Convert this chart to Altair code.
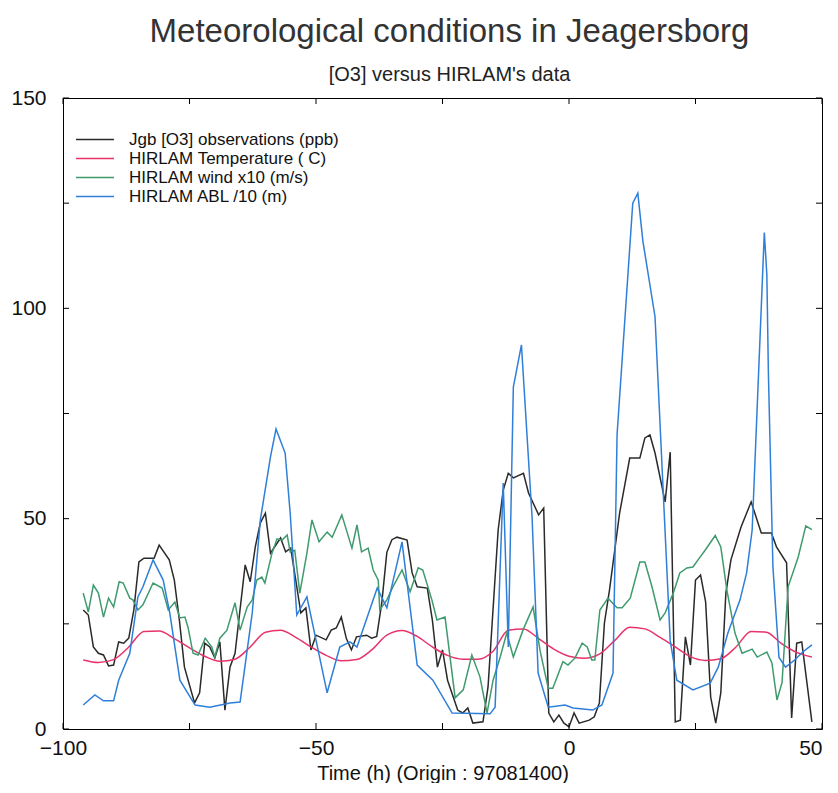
import altair as alt
import pandas as pd

# ---------------- data ----------------
series_names = [
    "Jgb [O3] observations (ppb)",
    "HIRLAM Temperature ( C)",
    "HIRLAM wind x10 (m/s)",
    "HIRLAM ABL /10 (m)",
]
series_colors = ["#2a2a2a", "#e8336a", "#3f9a6e", "#2f7fd8"]

o3_t = [-96, -95, -94, -93, -92, -91, -90, -89, -88, -87, -86, -85, -84, -82, -81, -79, -78, -77, -76,
        -74, -73, -72, -71, -70, -69, -68, -67, -66, -64, -63, -62, -61, -60, -59, -57, -56, -55, -54,
        -53, -52, -51, -50, -48, -47, -46, -45, -44, -43, -42, -40, -39, -38, -37, -36, -35, -34, -32,
        -31, -30, -28, -27, -26, -25, -24, -22, -21, -20, -19, -17, -16, -14, -13, -12, -11, -9, -8,
        -6, -5, -4, -3, -2, -1, 0, 1, 2, 4, 5, 6, 7, 8, 10, 12, 13, 14, 15, 16, 17, 19, 20, 21, 22, 23,
        24, 25, 26, 27, 28, 29, 30, 31, 32, 34, 36, 38, 40, 41, 43, 44, 45, 46, 48]
o3_v = [28.3, 27.1, 19.5, 18.0, 17.6, 15.0, 15.2, 20.7, 20.4, 21.6, 28.3, 39.7, 40.6, 40.6, 43.7, 40.2,
        35.4, 25.9, 14.7, 6.2, 8.6, 20.4, 19.5, 16.9, 20.7, 4.5, 14.7, 18.0, 39.0, 35.0, 43.3, 49.0, 51.3,
        41.8, 45.4, 42.1, 43.0, 35.4, 27.6, 28.8, 18.8, 22.3, 21.2, 23.5, 24.0, 26.6, 21.5, 18.8, 21.9,
        22.3, 21.6, 22.0, 30.0, 42.0, 45.0, 45.6, 44.9, 37.1, 33.8, 33.5, 25.9, 14.7, 18.8, 11.6, 4.5,
        3.8, 5.0, 1.4, 1.7, 10.0, 47.3, 56.8, 60.8, 59.7, 60.8, 56.1, 50.9, 52.5, 3.8, 1.7, 3.3, 1.4,
        0.5, 3.8, 1.4, 2.1, 2.9, 6.2, 25.2, 33.0, 51.3, 64.4, 64.4, 64.4, 69.2, 69.9, 65.6, 54.0, 65.8,
        1.7, 2.1, 21.9, 15.2, 35.4, 36.6, 30.2, 7.6, 1.4, 8.6, 32.3, 40.2, 48.0, 54.0, 46.6, 46.6, 43.3,
        39.5, 2.6, 20.4, 20.7, 1.7]

temp_t = [-96, -93, -90, -87, -84, -81, -78, -75, -72, -69, -66, -63, -60, -57, -54, -51, -48, -45,
          -42, -39, -36, -33, -30, -27, -24, -21, -18, -15, -12, -9, -6, -3, 0, 3, 6, 9, 12, 15, 18,
          21, 24, 27, 30, 33, 36, 39, 42, 45, 48]
temp_v = [16.4, 15.8, 16.5, 19.5, 23.2, 23.3, 21.5, 19.3, 17.3, 16.1, 16.6, 19.5, 23.0, 23.5, 21.8,
          19.5, 17.5, 16.2, 16.5, 18.8, 22.3, 23.4, 22.0, 19.5, 17.5, 16.6, 16.6, 18.5, 23.5, 23.8,
          21.5, 19.0, 17.3, 16.8, 17.8, 21.0, 24.2, 23.8, 21.8, 19.5, 17.2, 16.3, 16.7, 19.5, 23.2,
          23.0, 20.3, 18.2, 17.1]

wind_t = [-96, -95, -94, -93, -92, -91, -90, -88.9, -88.1, -86.8, -86.2, -85.2, -84.2, -82.2, -80.4,
          -79.2, -77.9, -76.9, -75.9, -75.3, -74.3, -73.3, -71.9, -70.6, -70, -69, -67.6, -66, -65,
          -63.6, -62.6, -61.7, -60.7, -60.1, -58.7, -57.7, -56.7, -55.7, -55.1, -54.2, -53.2, -51.8,
          -50.8, -49.4, -47.8, -46.8, -44.9, -42.9, -41.9, -41, -39.7, -38.7, -37.7, -37.4, -36,
          -34.8, -33, -31.4, -29.8, -28.9, -27.1, -26.1, -24.5, -22.5, -20.9, -19.2, -17.6, -16.2,
          -15, -13.6, -12.3, -11, -9.1, -7.1, -5.7, -4.1, -3.2, -1.2, -0.2, 1.2, 2.6, 3.6, 4.5, 5.1,
          6.1, 7.7, 9.5, 10.5, 12.1, 14, 15, 16.4, 18, 19, 20.6, 21.9, 23.3, 24.5, 25.5, 26.9, 28.9,
          30, 31.2, 32.8, 34.2, 36.2, 37.2, 39.1, 40.1, 41.1, 42.1, 43.3, 45.3, 46.8, 48]
wind_v = [32.3, 27.8, 34.2, 32.3, 26.6, 31.1, 29.0, 35.0, 34.7, 31.1, 30.7, 28.3, 29.5, 34.7, 33.5,
          28.3, 30.2, 26.4, 26.6, 24.2, 18.0, 17.6, 21.6, 19.5, 17.1, 21.6, 23.5, 30.0, 23.5, 29.0,
          30.7, 35.4, 36.1, 34.7, 41.8, 45.2, 44.9, 46.1, 42.1, 42.5, 32.3, 41.8, 49.7, 44.5, 46.8,
          45.6, 50.9, 43.0, 48.5, 42.1, 43.0, 37.8, 35.4, 28.3, 30.7, 33.8, 37.8, 32.6, 38.3, 37.8,
          30.7, 25.9, 26.6, 7.4, 9.3, 17.6, 12.4, 3.8, 11.6, 17.1, 22.8, 17.1, 23.5, 29.0, 18.5, 9.7,
          9.7, 16.0, 15.2, 16.9, 20.4, 19.5, 16.4, 16.4, 28.3, 31.1, 28.8, 28.8, 31.1, 39.7, 39.7,
          33.8, 25.9, 27.6, 32.3, 37.1, 38.3, 38.5, 40.2, 42.5, 46.0, 43.3, 33.0, 22.8, 18.0, 19.0,
          17.1, 18.3, 15.7, 6.9, 11.0, 33.8, 40.9, 48.3, 47.4]

abl_t = [-96, -93.7, -92, -90, -89, -86.8, -85.2, -84.2, -82.2, -80.2, -78.9, -76.9, -73.9, -71, -67,
         -65, -62.6, -61, -59, -57.9, -56.1, -55.1, -53.8, -51.8, -47.8, -45.3, -43.3, -41.9, -37.9,
         -36, -33, -30, -26.9, -23.1, -15.6, -14.6, -13, -12, -11, -9.4, -7.3, -6.1, -4.1, -0.8, 0.8,
         4.7, 6.5, 8.7, 9.5, 12.6, 13.6, 14.6, 17, 20, 21.3, 24.5, 27.9, 29.5, 31.4, 33.8, 35.1, 36.2,
         38.6, 39.1, 39.4, 40.3, 41.5, 42.8, 44.6, 46.2, 48]
abl_v = [5.7, 8.1, 6.7, 6.7, 11.6, 18.0, 31.4, 33.8, 40.2, 35.4, 27.6, 11.6, 5.7, 5.2, 6.2, 6.4, 27.6,
         49.7, 64.7, 71.3, 65.6, 51.3, 27.1, 31.4, 8.6, 19.5, 20.7, 19.5, 33.5, 28.8, 44.5, 15.2, 11.6,
         3.8, 3.6, 5.2, 58.5, 19.5, 81.3, 91.3, 50.4, 13.3, 5.2, 5.7, 5.0, 4.5, 5.7, 13.3, 70.0, 125.0,
         127.4, 116.0, 98.0, 21.0, 11.6, 9.3, 10.9, 14.7, 22.8, 30.7, 37.1, 47.3, 118.0, 108.0, 85.0,
         38.5, 17.0, 14.7, 16.4, 18.3, 20.0]

x_ticks = [-100, -75, -50, -25, 0, 25, 50]
y_ticks = [0, 25, 50, 75, 100, 125, 150]
x_labels = [-100, -50, 0, 50]
y_labels = [0, 50, 100, 150]

# ---------------- build table ----------------
frames = []
for name, ts, vs in zip(series_names, [o3_t, temp_t, wind_t, abl_t], [o3_v, temp_v, wind_v, abl_v]):
    frames.append(pd.DataFrame({"series": name, "t": ts, "v": vs}))
df = pd.concat(frames, ignore_index=True)

W, H = 759, 631
FONT = "Liberation Sans"

x_scale = alt.Scale(domain=[-100, 50], nice=False, zero=False)
y_scale = alt.Scale(domain=[0, 150], nice=False)
color_scale = alt.Scale(domain=series_names, range=series_colors)

base = alt.Chart(df)

layers = []
for i, name in enumerate(series_names):
    layers.append(
        base.transform_filter(alt.datum.series == name)
        .mark_line(strokeWidth=1.5, interpolate="monotone" if i == 1 else "linear", clip=True)
        .encode(
            x=alt.X("t:Q", scale=x_scale,
                    axis=alt.Axis(values=x_labels, title="Time (h) (Origin : 97081400)",
                                  tickSize=0, labelPadding=8, labelFontSize=21, labelFlush=False,
                                  labelAlign={"expr": "datum.value == 50 ? 'right' : 'center'"},
                                  titleFontSize=20, titlePadding=5, domain=False, grid=False)),
            y=alt.Y("v:Q", scale=y_scale,
                    axis=alt.Axis(values=y_labels, title=None, tickSize=0, labelPadding=17,
                                  labelFontSize=21, labelFlush=False, domain=False, grid=False)),
            color=alt.Color("series:N", scale=color_scale, sort=series_names,
                            legend=alt.Legend(title=None, orient="none", legendX=12, legendY=32,
                                              symbolType="stroke", symbolSize=1444,
                                              symbolStrokeWidth=1.5, labelFontSize=17,
                                              labelOffset=14, clipHeight=19, rowPadding=0,
                                              labelLimit=0, labelColor="#111")),
            order=alt.Order("t:Q"),
        )
    )

tx = pd.DataFrame({"v": x_ticks})
ty = pd.DataFrame({"v": y_ticks})
tick_bottom = alt.Chart(tx).mark_rule(color="black", strokeWidth=1).encode(
    x=alt.X("v:Q", scale=x_scale), y=alt.value(H), y2=alt.value(H - 6))
tick_top = alt.Chart(tx).mark_rule(color="black", strokeWidth=1).encode(
    x=alt.X("v:Q", scale=x_scale), y=alt.value(0), y2=alt.value(6))
tick_left = alt.Chart(ty).mark_rule(color="black", strokeWidth=1).encode(
    y=alt.Y("v:Q", scale=y_scale), x=alt.value(0), x2=alt.value(6))
tick_right = alt.Chart(ty).mark_rule(color="black", strokeWidth=1).encode(
    y=alt.Y("v:Q", scale=y_scale), x=alt.value(W), x2=alt.value(W - 6))

chart = (
    alt.layer(*layers, tick_bottom, tick_top, tick_left, tick_right)
    .properties(
        width=W, height=H,
        padding={"left": 55, "top": 90, "right": 8, "bottom": 54},
        autosize=alt.AutoSizeParams(type="none"),
        title=alt.Title("Meteorological conditions in Jeagersborg",
                        subtitle="[O3] versus HIRLAM's data",
                        fontSize=33, subtitleFontSize=20, font=FONT, subtitleFont=FONT,
                        fontWeight="normal", color="#333333", subtitleColor="#222222",
                        anchor="middle", offset=2, subtitlePadding=16, dx=7),
    )
    .configure(font=FONT, background="white")
    .configure_view(stroke="black", strokeWidth=1)
    .configure_axis(labelColor="#111111", titleColor="#111111", labelFont=FONT, titleFont=FONT,
                    titleFontWeight="normal")
    .configure_legend(labelFont=FONT)
)

chart.save("out.html", embed_options={"renderer": "svg", "actions": False})
